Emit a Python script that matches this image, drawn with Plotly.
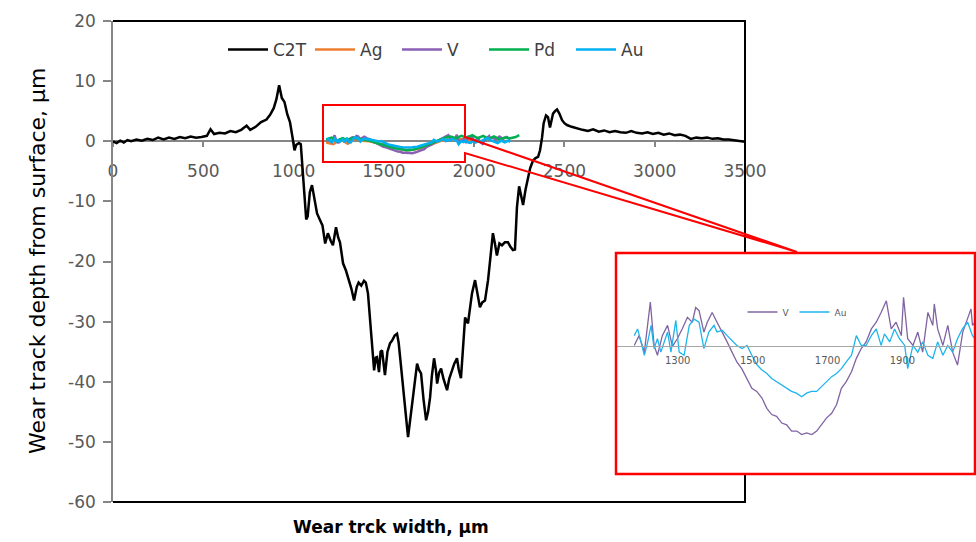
import plotly.graph_objects as go

W, H = 976, 542

# ---------------- data ----------------
c2t_x = [0, 20, 40, 60, 80, 100, 130, 160, 190, 220, 250, 280, 310, 340, 370, 400, 430, 460, 490, 520,
         540, 560, 590, 620, 650, 680, 710, 740, 760, 790, 820, 850, 870, 890, 905, 920, 935, 950, 965, 980,
         995, 1005, 1015, 1030, 1040, 1048, 1060, 1070, 1078, 1090, 1102, 1115, 1130, 1145, 1160, 1175, 1190,
         1205, 1218, 1235, 1247, 1257, 1274, 1290, 1302, 1320, 1335, 1350, 1360, 1375, 1390, 1400, 1412, 1425,
         1434, 1446, 1455, 1462, 1473, 1482, 1490, 1500, 1506, 1520, 1534, 1545, 1560, 1573, 1582, 1590, 1606,
         1620, 1634, 1648, 1662, 1675, 1684, 1694, 1706, 1720, 1734, 1745, 1756, 1766, 1778, 1788, 1795, 1806,
         1817, 1830, 1850, 1862, 1877, 1890, 1905, 1915, 1927, 1938, 1950, 1966, 1978, 1988, 2005, 2018, 2032,
         2045, 2060, 2077, 2090, 2104, 2115, 2126, 2140, 2154, 2170, 2187, 2200, 2215, 2226, 2237, 2249, 2260,
         2271, 2285, 2298, 2310, 2326, 2340, 2354, 2365, 2376, 2385, 2398, 2409, 2420, 2437, 2448, 2459, 2472,
         2487, 2500, 2514, 2540, 2570, 2600, 2630, 2659, 2690, 2720, 2750, 2780, 2810, 2840, 2870, 2900, 2930,
         2960, 2990, 3020, 3050, 3080, 3110, 3140, 3170, 3200, 3230, 3260, 3290, 3320, 3350, 3380, 3410, 3440,
         3470, 3500]
c2t_y = [0.0, -0.3, 0.1, -0.2, 0.2, 0.0, 0.3, 0.1, 0.4, 0.2, 0.6, 0.3, 0.6, 0.4, 0.7, 0.5, 0.8, 0.6, 0.7, 0.9,
         2.0, 1.2, 1.4, 1.3, 1.7, 1.5, 1.9, 2.6, 1.9, 2.4, 3.2, 3.6, 4.4, 5.5, 7.0, 9.3, 7.2, 6.5, 4.5, 3.2,
         0.5, -1.5, -0.6, -0.3, -0.5, -3.5, -9.0, -13.0, -12.5, -8.5, -7.3, -9.5, -12.0, -13.0, -14.0, -17.0, -15.3,
         -16.5, -17.3, -14.3, -16.0, -16.8, -20.3, -21.5, -22.6, -24.5, -26.5, -24.2, -23.5, -24.0, -23.2, -23.5, -25.3, -30.0,
         -34.3, -38.1, -36.0, -35.9, -38.4, -35.0, -34.8, -37.5, -38.9, -35.0, -33.6, -33.2, -32.3, -32.0, -33.5, -35.9, -40.3,
         -45.0, -49.2, -45.5, -42.6, -39.0, -37.0, -38.0, -38.6, -43.0, -46.4, -45.0, -42.6, -39.0, -36.1, -38.0, -40.3, -38.5,
         -37.8, -39.5, -41.4, -39.5, -38.1, -37.0, -36.1, -38.0, -39.4, -35.0, -29.3, -30.3, -27.0, -25.3, -23.1, -25.0, -27.6,
         -26.8, -26.5, -23.1, -19.5, -15.3, -17.0, -19.0, -17.0, -17.3, -16.8, -16.8, -17.5, -18.1, -18.0, -11.0, -7.5, -9.0,
         -10.6, -8.0, -6.0, -4.5, -3.2, -2.8, -2.6, -1.5, 0.6, 3.0, 4.3, 4.0, 2.3, 4.6, 5.0, 5.3, 4.6,
         3.5, 3.0, 2.7, 2.4, 2.1, 1.9, 1.7, 2.0, 1.6, 1.8, 1.5, 1.7, 1.5, 1.4, 1.7, 1.4, 1.3,
         1.5, 1.2, 1.4, 1.1, 1.3, 1.0, 1.1, 0.9, 0.4, 0.6, 0.5, 0.6, 0.4, 0.5, 0.3, 0.3, 0.2,
         0.1, -0.1]

ag_x = [1180, 1220, 1260, 1300, 1340, 1380, 1420, 1460, 1500, 1540, 1580, 1620, 1660, 1700, 1740, 1780,
        1820, 1860, 1900, 1940, 1980]
ag_y = [-0.2, -0.5, 0.3, -0.4, 0.4, 0.1, 0.0, -0.3, -0.6, -0.9, -1.2, -1.5, -1.4, -1.2, -0.8, -0.3,
        0.1, 0.3, 0.2, 0.4, 0.1]

v_x = [1184, 1197, 1211, 1227, 1237, 1246, 1259, 1273, 1286, 1299, 1312, 1326, 1339, 1348, 1357, 1370,
       1379, 1392, 1405, 1419, 1432, 1445, 1458, 1471, 1485, 1498, 1511, 1525, 1538, 1551, 1564, 1578,
       1591, 1604, 1618, 1631, 1644, 1658, 1671, 1684, 1697, 1711, 1724, 1737, 1750, 1764, 1777, 1790,
       1803, 1817, 1830, 1843, 1857, 1870, 1883, 1897, 1903, 1914, 1928, 1941, 1954, 1968, 1981, 1985,
       1994, 2008, 2021, 2034, 2047, 2061, 2074, 2083, 2087, 2100, 2120, 2140, 2160, 2180, 2200]
v_y = [0.02, 0.24, -0.13, 0.99, 0.02, -0.2, 0.24, 0.47, 0.0, 0.17, 0.39, 0.65, 0.54, 0.87, 0.8, 0.32,
       0.54, 0.76, 0.54, 0.32, 0.1, -0.13, -0.35, -0.5, -0.72, -0.94, -1.01, -1.16, -1.39, -1.53, -1.57, -1.72,
       -1.76, -1.9, -1.9, -1.98, -1.94, -1.98, -1.9, -1.76, -1.61, -1.5, -1.31, -0.94, -0.79, -0.57, -0.27, -0.05,
       0.1, 0.39, 0.54, 0.76, 1.02, 0.39, 0.54, 0.24, 1.1, 0.17, 0.02, 0.32, -0.13, 0.76, 0.47, 0.95,
       0.39, 0.02, 0.47, -0.13, -0.42, 0.32, 0.61, 0.84, 0.47, 0.6, 0.3, 0.8, 0.4, 0.7, 0.3]

pd_x = [1180, 1210, 1240, 1270, 1300, 1330, 1360, 1390, 1420, 1450, 1480, 1510, 1540, 1570, 1600, 1630,
        1660, 1690, 1720, 1750, 1780, 1810, 1840, 1870, 1900, 1930, 1960, 1990, 2020, 2050, 2080, 2110,
        2140, 2170, 2200, 2230, 2250]
pd_y = [0.3, 0.6, 0.1, 0.5, 0.2, 0.6, 0.4, 0.3, 0.1, -0.2, -0.5, -0.8, -1.0, -1.2, -1.4, -1.5,
        -1.4, -1.2, -0.9, -0.5, -0.1, 0.3, 0.6, 0.8, 0.5, 0.9, 0.6, 1.0, 0.5, 0.9, 0.4, 0.8,
        0.3, 0.6, 0.5, 0.7, 1.0]

au_x = [1184, 1193, 1202, 1211, 1220, 1229, 1237, 1246, 1255, 1264, 1273, 1282, 1295, 1304, 1317, 1331,
        1344, 1357, 1370, 1383, 1397, 1405, 1419, 1432, 1445, 1458, 1472, 1485, 1498, 1512, 1525, 1538,
        1551, 1564, 1578, 1591, 1604, 1617, 1631, 1644, 1657, 1671, 1684, 1697, 1711, 1724, 1737, 1750,
        1764, 1777, 1790, 1803, 1817, 1830, 1843, 1852, 1866, 1879, 1892, 1906, 1914, 1928, 1941, 1954,
        1968, 1981, 1994, 2008, 2021, 2034, 2047, 2060, 2074, 2087, 2110, 2130, 2150, 2170, 2190, 2200]
au_y = [0.24, 0.39, 0.1, -0.2, 0.1, 0.47, -0.05, 0.17, -0.13, 0.1, 0.32, -0.13, 0.58, -0.13, -0.2, 0.47,
        0.61, 0.54, -0.05, 0.32, 0.47, 0.32, 0.36, 0.24, 0.13, 0.02, -0.05, 0.02, -0.2, -0.42, -0.53, -0.61,
        -0.72, -0.79, -0.87, -0.94, -1.01, -1.05, -1.13, -1.05, -1.01, -1.01, -0.9, -0.79, -0.68, -0.61, -0.5, -0.35,
        -0.2, 0.24, 0.02, 0.02, 0.24, 0.39, 0.02, 0.28, 0.1, 0.39, 0.17, 0.02, -0.5, 0.02, -0.13, 0.1,
        -0.2, -0.27, 0.1, -0.2, 0.02, -0.13, 0.17, 0.39, 0.54, 0.24, 0.0, -0.3, 0.1, -0.2, 0.1, -0.1]

x_ticks = [0, 500, 1000, 1500, 2000, 2500, 3000, 3500]
y_ticks = [20, 10, 0, -10, -20, -30, -40, -50, -60]
y_tick_labels = ["20", "10", "0", "-10", "-20", "-30", "-40", "-50", "-60"]
inset_ticks = [1300, 1500, 1700, 1900, 2100]

# ---------------- helpers (pixel -> paper) ----------------
def px(x):
    return x / W

def py(y):
    return 1 - y / H

FONT = "DejaVu Sans"
GRAY = "#595959"
AXG = "#868686"

fig = go.Figure()
fig.add_trace(go.Scatter(x=c2t_x, y=c2t_y, name="C2T", mode="lines",
                         line=dict(color="black", width=2.5)))
fig.add_trace(go.Scatter(x=ag_x, y=ag_y, name="Ag", mode="lines",
                         line=dict(color="#ED7D31", width=2.5)))
fig.add_trace(go.Scatter(x=v_x, y=v_y, name="V", mode="lines",
                         line=dict(color="#8A5FB4", width=2.5)))
fig.add_trace(go.Scatter(x=pd_x, y=pd_y, name="Pd", mode="lines",
                         line=dict(color="#00B050", width=2.5)))
fig.add_trace(go.Scatter(x=au_x, y=au_y, name="Au", mode="lines",
                         line=dict(color="#00B0F0", width=2.5)))

# inset traces
fig.add_trace(go.Scatter(x=v_x, y=v_y, name="V", mode="lines", xaxis="x2", yaxis="y2",
                         legend="legend2", line=dict(color="#8064A2", width=1.3)))
fig.add_trace(go.Scatter(x=au_x, y=au_y, name="Au", mode="lines", xaxis="x2", yaxis="y2",
                         legend="legend2", line=dict(color="#1FB4EC", width=1.3)))

main_dom_x = [px(113), px(745)]
main_dom_y = [py(502), py(21)]

fig.update_layout(
    width=W, height=H,
    margin=dict(l=0, r=0, t=0, b=0),
    paper_bgcolor="white", plot_bgcolor="white",
    font=dict(family=FONT, color=GRAY, size=16),
    xaxis=dict(domain=main_dom_x, range=[0, 3500], anchor="free", position=py(141),
               tickvals=x_ticks, ticks="outside", ticklen=5, tickcolor=AXG, tickwidth=1.5,
               showline=True, linecolor=AXG, linewidth=1.5, showgrid=False, zeroline=False,
               tickfont=dict(size=17, color=GRAY, family=FONT), ticklabelstandoff=10,
               layer="below traces", automargin=False),
    yaxis=dict(domain=main_dom_y, range=[-60, 20], tickvals=y_ticks, ticktext=y_tick_labels,
               ticks="outside", ticklen=8,
               tickcolor=AXG, tickwidth=1.5, showline=True, linecolor=AXG, linewidth=1.5,
               showgrid=False, zeroline=False, tickfont=dict(size=17, color=GRAY, family=FONT),
               ticklabelstandoff=4, automargin=False, anchor="x"),
    xaxis2=dict(domain=[px(617), px(974)], range=[1138, 2091], anchor="free", position=py(346),
                tickvals=inset_ticks, ticks="", showline=True, linecolor="#A6A6A6", linewidth=1,
                showgrid=False, zeroline=False, tickfont=dict(size=10, color=GRAY, family=FONT),
                ticklabelstandoff=5, automargin=False),
    yaxis2=dict(domain=[py(473), py(254)], range=[-2.84, 2.07], anchor="x2", visible=False,
                showgrid=False, zeroline=False),
    legend=dict(orientation="h", x=px(223), xanchor="left", y=py(50), yanchor="middle",
                font=dict(size=17, color="#404040", family=FONT), itemwidth=40, entrywidth=32,
                bgcolor="rgba(0,0,0,0)", traceorder="normal", tracegroupgap=0),
    legend2=dict(orientation="h", x=px(797), xanchor="center", y=py(312), yanchor="middle",
                 font=dict(size=9, color=GRAY, family=FONT), itemwidth=30,
                 bgcolor="rgba(0,0,0,0)"),
    showlegend=True,
)

shapes = []
# black plot-area border (top, right, bottom)
shapes.append(dict(type="line", xref="paper", yref="paper", x0=px(113), x1=px(746), y0=py(21), y1=py(21),
                   line=dict(color="black", width=2)))
shapes.append(dict(type="line", xref="paper", yref="paper", x0=px(745), x1=px(745), y0=py(21), y1=py(253),
                   line=dict(color="black", width=2)))
shapes.append(dict(type="line", xref="paper", yref="paper", x0=px(745), x1=px(745), y0=py(474), y1=py(502),
                   line=dict(color="black", width=2)))
shapes.append(dict(type="line", xref="paper", yref="paper", x0=px(113), x1=px(746), y0=py(502), y1=py(502),
                   line=dict(color="black", width=2)))
# callout box with pointer
pts = [(465, 137), (465, 105), (323, 105), (323, 162), (465, 162), (465, 153), (797, 252)]
path = "M " + " L ".join(f"{px(a):.5f},{py(b):.5f}" for a, b in pts) + " Z"
shapes.append(dict(type="path", xref="paper", yref="paper", path=path,
                   line=dict(color="#FF0000", width=2), layer="above"))
# inset frame
shapes.append(dict(type="rect", xref="paper", yref="paper", x0=px(616), x1=px(975), y0=py(474), y1=py(253),
                   line=dict(color="#FF0000", width=2.5), layer="above"))
fig.update_layout(shapes=shapes)

fig.add_annotation(text="Wear track depth from surface, µm", xref="paper", yref="paper",
                   x=px(37), y=py(261), textangle=-90, showarrow=False,
                   font=dict(size=22, color="black", family=FONT), xanchor="center", yanchor="middle")
fig.add_annotation(text="<b>Wear trck width, µm</b>", xref="paper", yref="paper",
                   x=px(391), y=py(527), showarrow=False,
                   font=dict(size=17, color="black", family=FONT), xanchor="center", yanchor="middle")

fig.write_html("out.html", config={"displayModeBar": False},
               post_script="document.body.style.margin='0';document.body.style.overflow='hidden';")
